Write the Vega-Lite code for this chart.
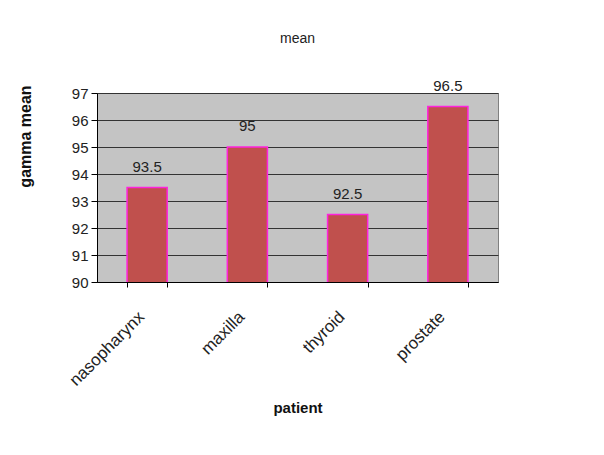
{
  "$schema": "https://vega.github.io/schema/vega-lite/v6.json",
  "width": 401,
  "height": 189,
  "autosize": {"type": "none"},
  "padding": {"left": 97, "top": 93, "right": 106, "bottom": 173},
  "background": "white",
  "title": {
    "text": "mean",
    "fontSize": 14,
    "fontWeight": "normal",
    "font": "Liberation Sans",
    "color": "#222222",
    "anchor": "middle",
    "offset": 33
  },
  "data": {
    "values": [
      {"patient": "nasopharynx", "gamma": 93.5},
      {"patient": "maxilla", "gamma": 95},
      {"patient": "thyroid", "gamma": 92.5},
      {"patient": "prostate", "gamma": 96.5}
    ]
  },
  "encoding": {
    "x": {
      "field": "patient",
      "type": "nominal",
      "sort": null,
      "scale": {"paddingInner": 0.6, "paddingOuter": 0.3},
      "axis": {
        "title": "patient",
        "titleFont": "Liberation Sans",
        "titleFontSize": 15,
        "titleFontWeight": "bold",
        "titleColor": "#111111",
        "titleBaseline": "middle",
        "titleY": 125,
        "labelAngle": -45,
        "labelAlign": "right",
        "labelBaseline": "middle",
        "labelFont": "Liberation Sans",
        "labelFontSize": 17,
        "labelColor": "#222222",
        "labelPadding": 27,
        "labelOffset": -6,
        "tickBand": "extent",
        "tickSize": 5,
        "tickColor": "#000000",
        "domainColor": "#000000",
        "grid": false
      }
    },
    "y": {
      "field": "gamma",
      "type": "quantitative",
      "scale": {"domain": [90, 97], "nice": false, "zero": false},
      "axis": {
        "title": "gamma mean",
        "titleFont": "Liberation Sans",
        "titleFontSize": 16,
        "titleFontWeight": "bold",
        "titleColor": "#111111",
        "titleAngle": -90,
        "titleAlign": "center",
        "titleBaseline": "middle",
        "titleX": -72,
        "titleY": 43,
        "values": [90, 91, 92, 93, 94, 95, 96, 97],
        "labelFont": "Liberation Sans",
        "labelFontSize": 15,
        "labelColor": "#222222",
        "labelPadding": 3,
        "tickSize": 6,
        "tickColor": "#000000",
        "domainColor": "#000000",
        "grid": true,
        "gridColor": "#333333",
        "gridWidth": 1.2
      }
    }
  },
  "layer": [
    {
      "mark": {
        "type": "bar",
        "clip": true,
        "fill": "#c0504d",
        "stroke": "#ff22dd",
        "strokeWidth": 1.5
      }
    },
    {
      "mark": {
        "type": "text",
        "dy": -13,
        "font": "Liberation Sans",
        "fontSize": 15,
        "color": "#222222",
        "baseline": "bottom"
      },
      "encoding": {
        "text": {"field": "gamma", "type": "quantitative"}
      }
    }
  ],
  "config": {
    "view": {"fill": "#c4c4c4", "stroke": "#808080", "strokeWidth": 1}
  }
}
